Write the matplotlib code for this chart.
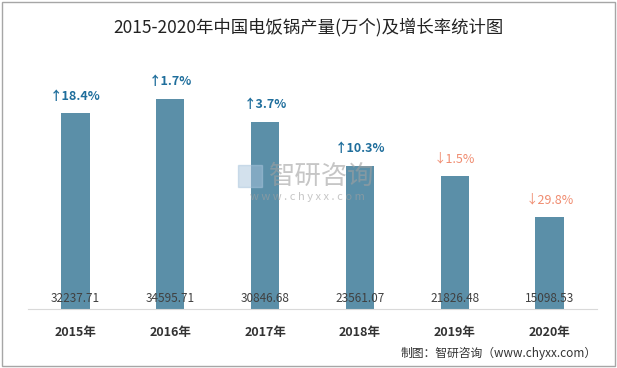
import matplotlib.pyplot as plt
from matplotlib.patches import Rectangle

plt.rcParams['font.family'] = ['Noto Sans CJK SC', 'DejaVu Sans']

years = ['2015年', '2016年', '2017年', '2018年', '2019年', '2020年']
output = [32237.71, 34595.71, 30846.68, 23561.07, 21826.48, 15098.53]
growth = ['18.4%', '1.7%', '3.7%', '10.3%', '1.5%', '29.8%']
up = [True, True, True, True, False, False]

fig = plt.figure(figsize=(6.17, 3.68), dpi=100)
ax = fig.add_axes([28 / 617, 59 / 368, 569 / 617, 243 / 368])

x = range(len(years))
ax.bar(x, output, width=0.3, color='#5b8fa8', zorder=2)
ax.set_xlim(-0.5, len(years) - 0.5)
ax.set_ylim(0, 40000)

for i, v in enumerate(output):
    ax.text(i, 1800, '%.2f' % v, ha='center', va='center', fontsize=8.5, color='#404040', zorder=3)
    if up[i]:
        ax.text(i, v + 2800, '↑' + growth[i], ha='center', va='center', fontsize=9,
                color='#1f6e9c', fontweight='bold', zorder=3)
    else:
        ax.text(i, v + 2800, '↓' + growth[i], ha='center', va='center', fontsize=9,
                color='#f08c70', zorder=3)

ax.set_xticks(list(x))
ax.set_xticklabels(years, fontsize=9, fontweight='bold', color='#333333')
ax.tick_params(axis='x', length=0, pad=12)
ax.set_yticks([])
for s in ['top', 'right', 'left']:
    ax.spines[s].set_visible(False)
ax.spines['bottom'].set_color('#d9d9d9')

# 水印
fig.text(322 / 617, 1 - 176 / 368, '智研咨询', fontsize=19, color='#a0a0a0', alpha=0.6,
         ha='center', va='center')
fig.text(307 / 617, 1 - 197 / 368, 'w w w . c h y x x . c o m', fontsize=8, color='#a0a0a0', alpha=0.6,
         ha='center', va='center')
fig.patches.append(Rectangle((238 / 617, 1 - 187 / 368), 24 / 617, 22 / 368, transform=fig.transFigure,
                             color='#a9c4dc', alpha=0.5, zorder=5))

fig.suptitle('2015-2020年中国电饭锅产量(万个)及增长率统计图', y=1 - 27 / 368, fontsize=12.5,
             va='center', color='#222222')
fig.text(597 / 617, 1 - 353 / 368, '制图：智研咨询（www.chyxx.com）', fontsize=8.5, ha='right',
         va='center', color='#333333')

fig.patches.append(Rectangle((2 / 617, 2 / 368), 613 / 617, 364 / 368, transform=fig.transFigure,
                             fill=False, edgecolor='#a6a6a6', lw=1))

fig.savefig('out.png', dpi=100)
